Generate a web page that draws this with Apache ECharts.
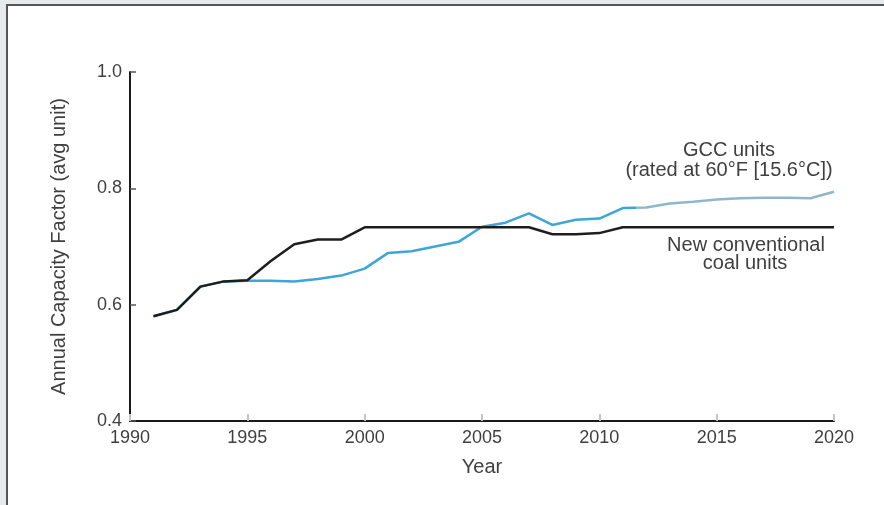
<!DOCTYPE html>
<html lang="en">
<head>
    <meta charset="UTF-8">
    <title>Annual Capacity Factor</title>
    <script src="https://cdn.jsdelivr.net/npm/echarts@6/dist/echarts.min.js"></script>
    <style>
        *{
            margin:0;
            padding:0;
        }
        html,body{
            width:884px;
            height:505px;
            overflow:hidden;
            background:#e6eaea;
        }
        #frame{
            position:absolute;
            left:6px;
            top:4px;
            right:0;
            bottom:0;
            background:#fff;
            border-left:2px solid #555;
            border-top:2px solid #555;
        }
        #chart{
            position:absolute;
            left:0;
            top:0;
            width:884px;
            height:505px;
        }
    </style>
</head>
<body>
    <div id="frame"></div>
    <div id="chart"></div>
    <script>
        var years=[1991,1992,1993,1994,1995,1996,1997,1998,1999,2000,
                   2001,2002,2003,2004,2005,2006,2007,2008,2009,2010,
                   2011,2012,2013,2014,2015,2016,2017,2018,2019,2020]
        // GCC units (rated at 60F)
        var gccValues=[0.580,0.591,0.631,0.640,0.641,0.641,0.640,0.644,0.650,0.662,
                       0.689,0.692,0.700,0.708,0.734,0.741,0.757,0.737,0.746,0.748,
                       0.766,0.767,0.774,0.777,0.781,0.783,0.784,0.784,0.783,0.794]
        // new conventional coal units
        var coalValues=[0.580,0.591,0.631,0.640,0.642,0.675,0.704,0.712,0.712,0.733,
                        0.733,0.733,0.733,0.733,0.733,0.733,0.733,0.721,0.721,0.723,
                        0.733,0.733,0.733,0.733,0.733,0.733,0.733,0.733,0.733,0.733]
        var yTicks=[0.4,0.6,0.8,1.0]
        var forecastFrom=2011.5 // blue line turns pale from here

        function pairs(vals){
            return years.map(function(y,i){return [y,vals[i]]})
        }

        // hard colour change along the GCC line (gradient spans the line's x extent)
        var cut=(forecastFrom-years[0])/(years[years.length-1]-years[0])
        var gccColor=new echarts.graphic.LinearGradient(0,0,1,0,[
            {offset:0,color:'#3ea5d8'},
            {offset:cut,color:'#3ea5d8'},
            {offset:cut,color:'#8fb7cb'},
            {offset:1,color:'#8fb7cb'}
        ])

        var font='"Liberation Sans", Arial, sans-serif'
        var txt='#3f3f3f'

        var myCharts=echarts.init(document.getElementById('chart'))
        var option={
            animation:false,
            grid:{left:130,right:50,top:72,bottom:84},
            xAxis:{
                type:'value',
                min:1990,
                max:2020,
                interval:5,
                name:'Year',
                nameLocation:'middle',
                nameGap:36,
                nameTextStyle:{fontSize:20,color:txt,fontFamily:font},
                splitLine:{show:false},
                axisLine:{lineStyle:{color:'#1a1a1a',width:2}},
                axisTick:{inside:true,length:7,lineStyle:{color:'#c4c4c4',width:2}},
                axisLabel:{fontSize:18,color:txt,fontFamily:font,margin:8,
                    formatter:function(v){return String(v)}}
            },
            yAxis:{
                type:'value',
                min:yTicks[0],
                max:yTicks[yTicks.length-1],
                interval:0.2,
                name:'Annual Capacity Factor (avg unit)',
                nameLocation:'middle',
                nameGap:61,
                nameTextStyle:{fontSize:20,color:txt,fontFamily:font},
                splitLine:{show:false},
                axisLine:{lineStyle:{color:'#1a1a1a',width:2}},
                axisTick:{inside:true,length:6,lineStyle:{color:'#555',width:1.5}},
                axisLabel:{fontSize:18,color:txt,fontFamily:font,margin:8,
                    formatter:function(v){return v.toFixed(1)}}
            },
            graphic:[
                {type:'text',x:729,y:150,style:{text:'GCC units',font:'20px '+font,fill:txt,align:'center',verticalAlign:'middle'}},
                {type:'text',x:729,y:170,style:{text:'(rated at 60°F [15.6°C])',font:'20px '+font,fill:txt,align:'center',verticalAlign:'middle'}},
                {type:'text',x:746,y:245,style:{text:'New conventional',font:'20px '+font,fill:txt,align:'center',verticalAlign:'middle'}},
                {type:'text',x:745,y:263,style:{text:'coal units',font:'20px '+font,fill:txt,align:'center',verticalAlign:'middle'}}
            ],
            series:[
                {
                    name:'GCC units',
                    type:'line',
                    data:pairs(gccValues),
                    symbol:'none',
                    lineStyle:{width:2.5,color:gccColor},
                    itemStyle:{color:'#3ea5d8'}
                },
                {
                    name:'New conventional coal units',
                    type:'line',
                    data:pairs(coalValues),
                    symbol:'none',
                    lineStyle:{width:2.5,color:'#1e1e1e'},
                    itemStyle:{color:'#1e1e1e'}
                }
            ]
        }
        myCharts.setOption(option)
        window.onresize=myCharts.resize
    </script>
</body>
</html>
